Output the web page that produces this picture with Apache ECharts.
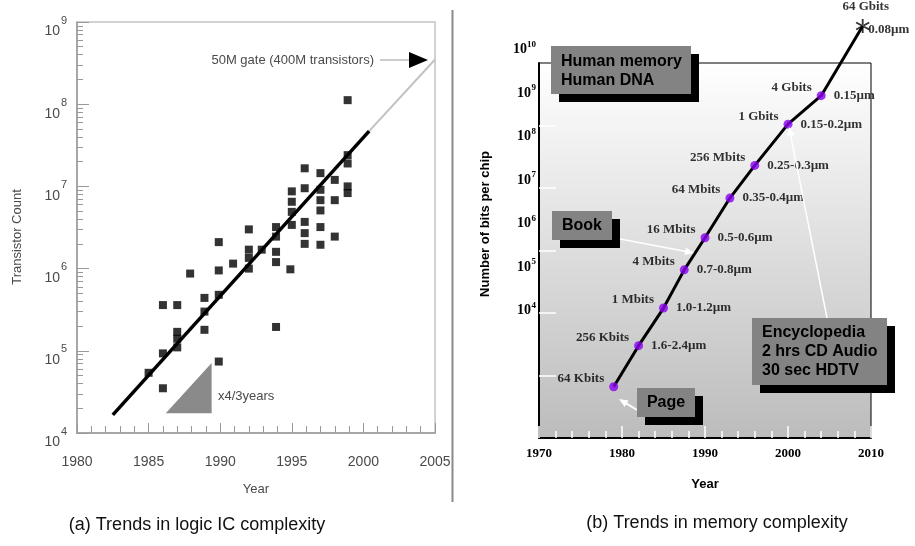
<!DOCTYPE html>
<html><head><meta charset="utf-8">
<script src="https://cdn.jsdelivr.net/npm/echarts@6/dist/echarts.min.js"></script>
<style>html,body{margin:0;padding:0;background:#fff}#c{width:915px;height:546px}</style>
</head><body><div id="c"></div>
<script>
// ---------- (a) logic IC complexity ----------
const logicYears = [1985.0,1986.0,1986.0,1986.0,1987.0,1987.0,1987.0,1987.0,1987.9,1988.9,1988.9,1988.9,1989.9,1989.9,1989.9,1989.9,1990.9,1992.0,1992.0,1992.0,1992.0,1992.9,1993.9,1993.9,1993.9,1993.9,1993.9,1994.9,1995.0,1995.0,1995.0,1995.0,1995.9,1995.9,1995.9,1995.9,1995.9,1997.0,1997.0,1997.0,1997.0,1997.0,1997.0,1998.0,1998.0,1998.0,1998.9,1998.9,1998.9,1998.9,1998.9];
const logicCounts = [5.4e4,3.5e4,9.3e4,3.6e5,3.6e5,1.7e5,1.4e5,1.1e5,8.7e5,4.4e5,3.0e5,1.8e5,2.1e6,9.5e5,4.8e5,7.4e4,1.15e6,3.0e6,1.7e6,1.35e6,1.0e6,1.7e6,3.2e6,2.45e6,1.6e6,1.2e6,1.95e5,9.8e5,8.7e6,6.5e6,4.9e6,3.4e6,1.66e7,9.5e6,3.7e6,2.7e6,2.0e6,1.45e7,9.1e6,6.8e6,5.1e6,3.2e6,1.95e6,1.2e7,6.8e6,2.45e6,1.12e8,2.4e7,1.9e7,1.0e7,8.3e6];
const trendYears = [1982.5, 2000.4];
const trendCounts = [1.66e4, 4.7e7];
const projYears = [2000.4, 2005];
const projCounts = [4.7e7, 3.5e8];
const triYears = [1986.2, 1989.4, 1989.4];
const triCounts = [1.74e4, 1.74e4, 7.1e4];

// ---------- (b) memory complexity ----------
const memYears = [1979, 1982, 1985, 1987.5, 1990, 1993, 1996, 2000, 2004, 2009];
const memBits = [6.6e4, 3.0e5, 1.2e6, 4.9e6, 1.6e7, 6.9e7, 2.3e8, 1.05e9, 3.0e9, 3.9e10];
const memSize = ['64 Kbits','256 Kbits','1 Mbits','4 Mbits','16 Mbits','64 Mbits','256 Mbits','1 Gbits','4 Gbits','64 Gbits'];
const memFeature = ['','1.6-2.4µm','1.0-1.2µm','0.7-0.8µm','0.5-0.6µm','0.35-0.4µm','0.25-0.3µm','0.15-0.2µm','0.15µm','0.08µm'];
const memExpLabels = [4, 5, 6, 7, 8, 9, 10];

const SANS = 'Liberation Sans, Arial, Helvetica, sans-serif';
const SERIF = 'Liberation Serif, Times New Roman, serif';
const GRAYTXT = '#4a4a4a';

const zip = (a, b) => a.map((v, i) => [v, b[i]]);
const minorLog = [];
for (let e = 4; e < 9; e++) for (let k = 2; k <= 9; k++) minorLog.push(k * Math.pow(10, e));

const starPath = 'path://M4.4 0L5.6 0L5.6 10L4.4 10Z M9.03 8.02L9.63 6.98L0.97 1.98L0.37 3.02Z M9.63 3.02L9.03 1.98L0.37 6.98L0.97 8.02Z';

function arrow(x1, y1, x2, y2, lineColor, headColor, w, head) {
  const dx = x2 - x1, dy = y2 - y1, L = Math.hypot(dx, dy);
  const ux = dx / L, uy = dy / L, nx = -uy, ny = ux;
  const bx = x2 - ux * head, by = y2 - uy * head, hw = head * 0.42;
  return [
    { type: 'line', z: 100, shape: { x1, y1, x2: bx + ux, y2: by + uy }, style: { stroke: lineColor, lineWidth: w } },
    { type: 'polygon', z: 100, shape: { points: [[x2, y2], [bx + nx * hw, by + ny * hw], [bx - nx * hw, by - ny * hw]] }, style: { fill: headColor } }
  ];
}
function box(x, y, w, h, text, opts) {
  return [
    { type: 'rect', z: 100, shape: { x: x + 8, y: y + 8, width: w, height: h }, style: { fill: '#000' } },
    { type: 'rect', z: 101, shape: { x, y, width: w, height: h }, style: { fill: '#838383' } },
    { type: 'text', z: 102, x: opts.tx, y: opts.ty, style: { text, fill: '#000', font: 'bold 16px ' + SANS, lineHeight: opts.lh || 19, align: opts.align || 'left', verticalAlign: 'middle' } }
  ];
}

const chart = echarts.init(document.getElementById('c'), null, { renderer: 'canvas' });

const graphics = [].concat(
  [{ type: 'line', shape: { x1: 452.5, y1: 10, x2: 452.5, y2: 502 }, style: { stroke: '#8a8a8a', lineWidth: 2 } }],
  [{ type: 'text', z: 100, x: 374, y: 60, style: { text: '50M gate (400M transistors)', font: '13px ' + SANS, fill: GRAYTXT, align: 'right', verticalAlign: 'middle' } }],
  arrow(380, 60, 428, 60, '#9a9a9a', '#000', 1, 19),
  [{ type: 'text', z: 100, x: 218, y: 396, style: { text: 'x4/3years', font: '13px ' + SANS, fill: GRAYTXT, align: 'left', verticalAlign: 'middle' } }],
  box(551, 46, 140, 48, 'Human memory\nHuman DNA', { tx: 561, ty: 71, lh: 19 }),
  box(552, 211, 60, 29, 'Book', { tx: 582, ty: 226, align: 'center' }),
  box(637, 388, 58, 29, 'Page', { tx: 666, ty: 403, align: 'center' }),
  box(752, 318, 135, 67, 'Encyclopedia\n2 hrs CD Audio\n30 sec HDTV', { tx: 762, ty: 352, lh: 19 }),
  arrow(620, 239, 694, 253, '#fff', '#fff', 1.5, 9),
  arrow(637, 410, 619, 399, '#fff', '#fff', 2, 9),
  arrow(827, 318, 789, 127, '#fff', '#fff', 1.5, 9),
  [{ type: 'text', x: 197, y: 525, style: { text: '(a) Trends in logic IC complexity', font: '18px ' + SANS, fill: '#111', align: 'center', verticalAlign: 'middle' } },
   { type: 'text', x: 717, y: 523, style: { text: '(b) Trends in memory complexity', font: '18px ' + SANS, fill: '#111', align: 'center', verticalAlign: 'middle' } }]
);

const featureData = zip(memYears, memBits).map((v, i) =>
  i === memYears.length - 1 ? { value: v, label: { offset: [-7, 4] } } : v);

const option = {
  animation: false,
  backgroundColor: '#fff',
  grid: [
    { left: 77, top: 22, width: 358, height: 411, show: true, borderColor: '#c4c4c4', borderWidth: 1.5 },
    { left: 539, top: 63, width: 332, height: 375, show: true, borderColor: '#000', borderWidth: 1,
      backgroundColor: new echarts.graphic.LinearGradient(0, 0, 0, 1, [{ offset: 0, color: '#ffffff' }, { offset: 1, color: '#bcbcbc' }]) },
    { left: 539, top: 47, width: 332, height: 261, show: false }
  ],
  xAxis: [
    { gridIndex: 0, type: 'value', min: 1980, max: 2005, interval: 5,
      axisLine: { lineStyle: { color: '#999', width: 1.5 } },
      axisTick: { inside: true, length: 10, lineStyle: { color: '#999' } },
      minorTick: { show: true, splitNumber: 5, length: 7, lineStyle: { color: '#999' } },
      splitLine: { show: false },
      axisLabel: { margin: 22, fontSize: 14, color: GRAYTXT, fontFamily: SANS, formatter: v => String(v) },
      name: 'Year', nameLocation: 'middle', nameGap: 50, nameTextStyle: { fontSize: 13, color: GRAYTXT, fontFamily: SANS } },
    { gridIndex: 1, type: 'value', min: 1970, max: 2010, interval: 10,
      axisLine: { lineStyle: { color: '#000', width: 2 } },
      axisTick: { inside: true, length: 12, lineStyle: { color: '#fff', width: 1.5 } },
      minorTick: { show: true, splitNumber: 5, length: 7, lineStyle: { color: '#fff', width: 1.5 } },
      splitLine: { show: false },
      axisLabel: { margin: 9, fontSize: 13, fontWeight: 'bold', color: '#000', fontFamily: SERIF, formatter: v => String(v) },
      name: 'Year', nameLocation: 'middle', nameGap: 40, nameTextStyle: { fontSize: 13, fontWeight: 'bold', color: '#000', fontFamily: SANS } },
    { gridIndex: 2, type: 'value', show: false, min: 0, max: 1 }
  ],
  yAxis: [
    { gridIndex: 0, type: 'log', logBase: 10, min: 1e4, max: 1e9, position: 'left',
      axisLine: { lineStyle: { color: '#999', width: 1.5 } },
      axisTick: { inside: true, length: 12, lineStyle: { color: '#999' } },
      splitLine: { show: false },
      axisLabel: { margin: 10, padding: [11, 0, 0, 0],
        formatter: v => '{s|' + Math.round(Math.log10(v)) + '}\n{b|10}',
        rich: { b: { fontSize: 14, color: GRAYTXT, fontFamily: SANS, lineHeight: 14, padding: [0, 7, 0, 0] },
                s: { fontSize: 11, color: GRAYTXT, fontFamily: SANS, lineHeight: 8 } } },
      name: 'Transistor Count', nameLocation: 'middle', nameGap: 53, nameRotate: 90,
      nameTextStyle: { fontSize: 13, color: GRAYTXT, fontFamily: SANS, padding: [0, 19, 0, 0] } },
    { gridIndex: 0, type: 'log', logBase: 10, min: 1e4, max: 1e9, position: 'left', offset: 0,
      axisLine: { show: false }, axisLabel: { show: false }, splitLine: { show: false },
      axisTick: { inside: true, length: 6, customValues: minorLog, lineStyle: { color: '#999' } } },
    { gridIndex: 1, type: 'log', logBase: 10, min: 1e4, max: 1e10, position: 'left',
      axisLine: { lineStyle: { color: '#000', width: 2 } },
      axisTick: { inside: true, length: 17, customValues: [1e5, 1e6, 1e7, 1e8, 1e9], lineStyle: { color: '#fff', width: 1.5 } },
      axisLabel: { show: false }, splitLine: { show: false },
      name: 'Number of bits per chip', nameLocation: 'middle', nameGap: 47, nameRotate: 90,
      nameTextStyle: { fontSize: 13, fontWeight: 'bold', color: '#000', fontFamily: SANS, padding: [0, 0, 0, 53] } },
    { gridIndex: 2, type: 'value', min: 4, max: 10, interval: 1, position: 'left',
      axisLine: { show: false }, axisTick: { show: false }, splitLine: { show: false },
      axisLabel: { margin: 3, customValues: memExpLabels,
        formatter: v => '{s|' + v + '}\n{' + (v >= 10 ? 'c' : 'b') + '|10}',
        rich: { b: { fontSize: 14, fontWeight: 'bold', color: '#000', fontFamily: SERIF, lineHeight: 5, padding: [0, 5, 0, 0] },
                c: { fontSize: 14, fontWeight: 'bold', color: '#000', fontFamily: SERIF, lineHeight: 5, padding: [0, 9, 0, 0] },
                s: { fontSize: 9, fontWeight: 'bold', color: '#000', fontFamily: SERIF, lineHeight: 5 } } } }
  ],
  series: [
    { type: 'custom', xAxisIndex: 0, yAxisIndex: 0, data: [[0]], z: 1,
      renderItem: (params, api) => ({
        type: 'polygon',
        shape: { points: triYears.map((y, i) => api.coord([y, triCounts[i]])) },
        style: { fill: '#8a8a8a' }
      }) },
    { type: 'line', xAxisIndex: 0, yAxisIndex: 0, data: zip(projYears, projCounts), symbol: 'none',
      lineStyle: { color: '#c2c2c2', width: 2 }, z: 2 },
    { type: 'line', xAxisIndex: 0, yAxisIndex: 0, data: zip(trendYears, trendCounts), symbol: 'none',
      lineStyle: { color: '#000', width: 3.5 }, z: 4 },
    { type: 'scatter', xAxisIndex: 0, yAxisIndex: 0, data: zip(logicYears, logicCounts), symbol: 'rect', symbolSize: 8,
      itemStyle: { color: '#000' }, z: 3 },

    { type: 'line', xAxisIndex: 1, yAxisIndex: 2, data: zip(memYears, memBits), symbol: 'none', clip: false,
      lineStyle: { color: '#000', width: 3 }, z: 3 },
    { type: 'scatter', xAxisIndex: 1, yAxisIndex: 2, data: zip(memYears, memBits).slice(0, 9), symbolSize: 9, clip: false,
      itemStyle: { color: '#8a00f0' }, z: 4,
      label: { show: true, position: 'left', distance: 5, offset: [0, -8], formatter: p => memSize[p.dataIndex],
        fontFamily: SERIF, fontWeight: 'bold', fontSize: 13, color: '#000' } },
    { type: 'scatter', xAxisIndex: 1, yAxisIndex: 2, data: featureData, symbolSize: 1, clip: false,
      itemStyle: { color: 'rgba(0,0,0,0)' }, z: 4,
      label: { show: true, position: 'right', distance: 12, offset: [0, 0], formatter: p => memFeature[p.dataIndex],
        fontFamily: SERIF, fontWeight: 'bold', fontSize: 13, color: '#000' } },
    { type: 'scatter', xAxisIndex: 1, yAxisIndex: 2, data: zip(memYears, memBits).slice(9), symbol: starPath, symbolSize: 14, clip: false,
      itemStyle: { color: '#000' }, z: 5,
      label: { show: true, position: 'top', distance: 6, offset: [3, 0], formatter: () => memSize[9],
        fontFamily: SERIF, fontWeight: 'bold', fontSize: 13, color: '#000' } }
  ],
  graphic: graphics
};
chart.setOption(option);
</script></body></html>
